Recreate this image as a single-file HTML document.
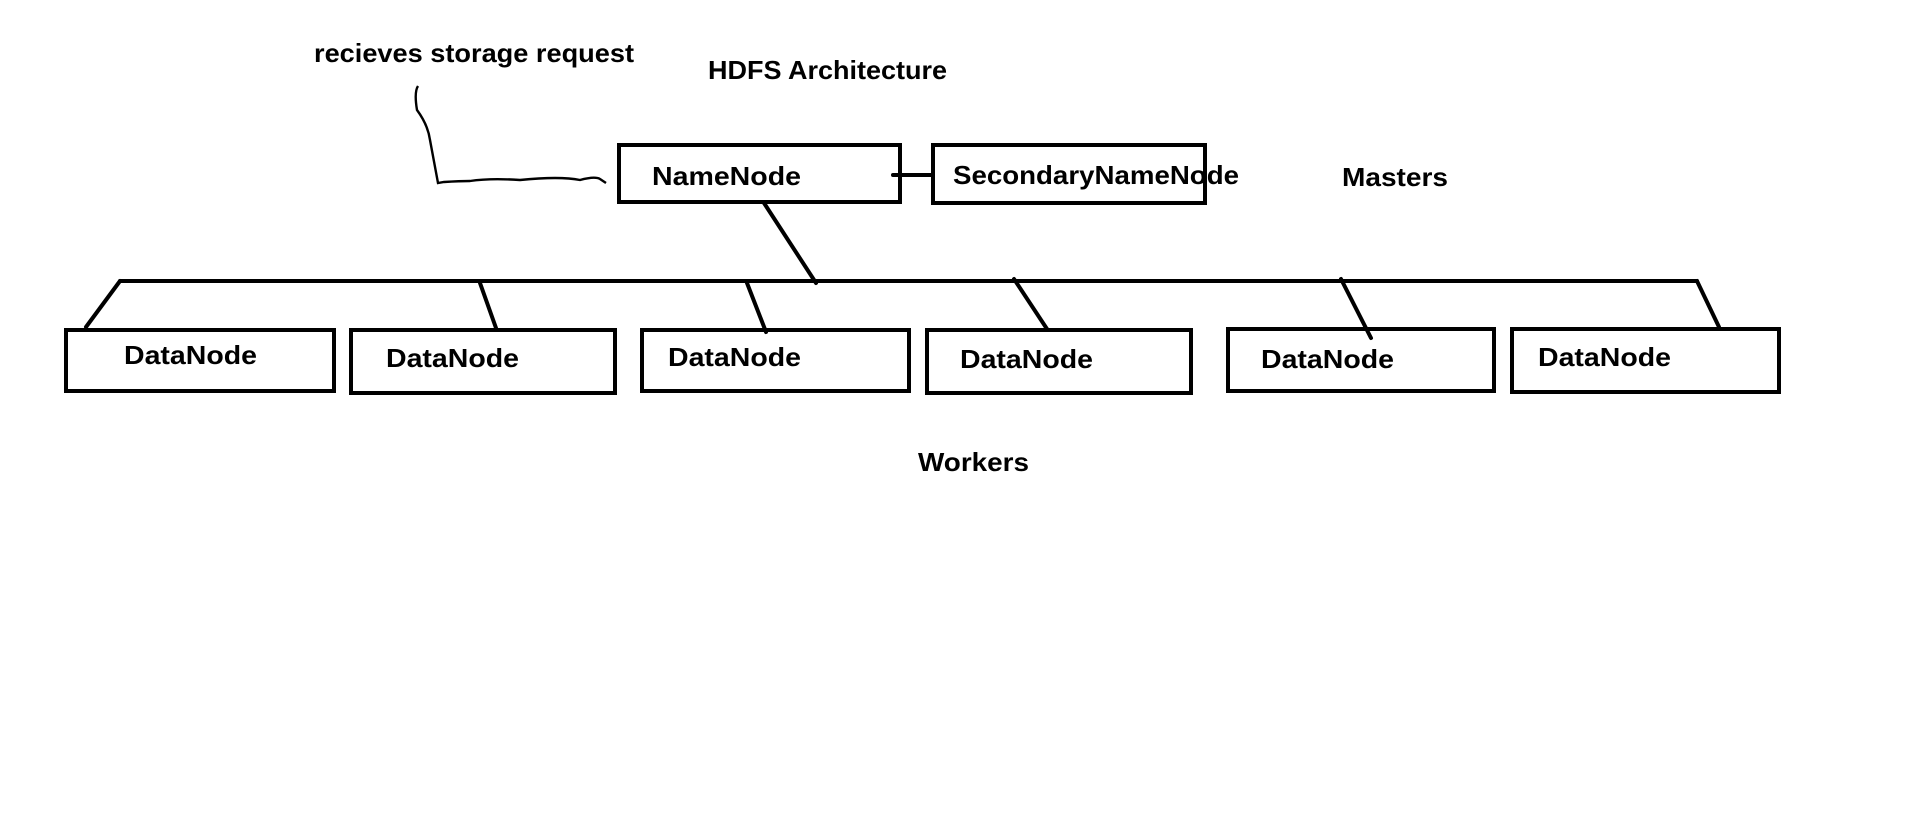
<!DOCTYPE html>
<html><head><style>html,body{margin:0;padding:0;background:#fff;}svg{display:block}</style></head>
<body>
<svg width="1914" height="826" xmlns="http://www.w3.org/2000/svg">
<g fill="none" stroke="#000" stroke-width="4" stroke-linecap="round">
<rect x="619" y="145" width="281" height="57"/>
<rect x="933" y="145" width="272" height="58"/>
<rect x="66" y="330" width="268" height="61"/>
<rect x="351" y="330" width="264" height="63"/>
<rect x="642" y="330" width="267" height="61"/>
<rect x="927" y="330" width="264" height="63"/>
<rect x="1228" y="329" width="266" height="62"/>
<rect x="1512" y="329" width="267" height="63"/>
<line x1="120" y1="281" x2="1697" y2="281"/>
<line x1="764" y1="203" x2="816" y2="283"/>
<line x1="893" y1="175" x2="933" y2="175"/>
<line x1="120" y1="281" x2="86" y2="327"/>
<line x1="480" y1="283" x2="496" y2="328"/>
<line x1="747" y1="283" x2="766" y2="332"/>
<line x1="1014" y1="279" x2="1047" y2="329"/>
<line x1="1341" y1="279" x2="1371" y2="338"/>
<line x1="1697" y1="281" x2="1719" y2="327"/>
</g>
<path d="M418 86 Q414 92 417 110 Q428 125 430 140 L438 183 L444 182 Q460 181 470 181 Q490 178 520 180 Q560 176 580 180 Q595 176 600 179 L606 183" fill="none" stroke="#000" stroke-width="2.4"/>
<g font-family="Liberation Sans, sans-serif" font-weight="bold" font-size="26" fill="#000">
<text x="314" y="62" textLength="320" lengthAdjust="spacingAndGlyphs">recieves storage request</text>
<text x="708" y="79" textLength="239" lengthAdjust="spacingAndGlyphs">HDFS Architecture</text>
<text x="652" y="185" textLength="149" lengthAdjust="spacingAndGlyphs">NameNode</text>
<text x="953" y="184" textLength="286" lengthAdjust="spacingAndGlyphs">SecondaryNameNode</text>
<text x="1342" y="186" textLength="106" lengthAdjust="spacingAndGlyphs">Masters</text>
<text x="124" y="364" textLength="133" lengthAdjust="spacingAndGlyphs">DataNode</text>
<text x="386" y="367" textLength="133" lengthAdjust="spacingAndGlyphs">DataNode</text>
<text x="668" y="366" textLength="133" lengthAdjust="spacingAndGlyphs">DataNode</text>
<text x="960" y="368" textLength="133" lengthAdjust="spacingAndGlyphs">DataNode</text>
<text x="1261" y="368" textLength="133" lengthAdjust="spacingAndGlyphs">DataNode</text>
<text x="1538" y="366" textLength="133" lengthAdjust="spacingAndGlyphs">DataNode</text>
<text x="918" y="471" textLength="111" lengthAdjust="spacingAndGlyphs">Workers</text>
</g>
</svg>
</body></html>
